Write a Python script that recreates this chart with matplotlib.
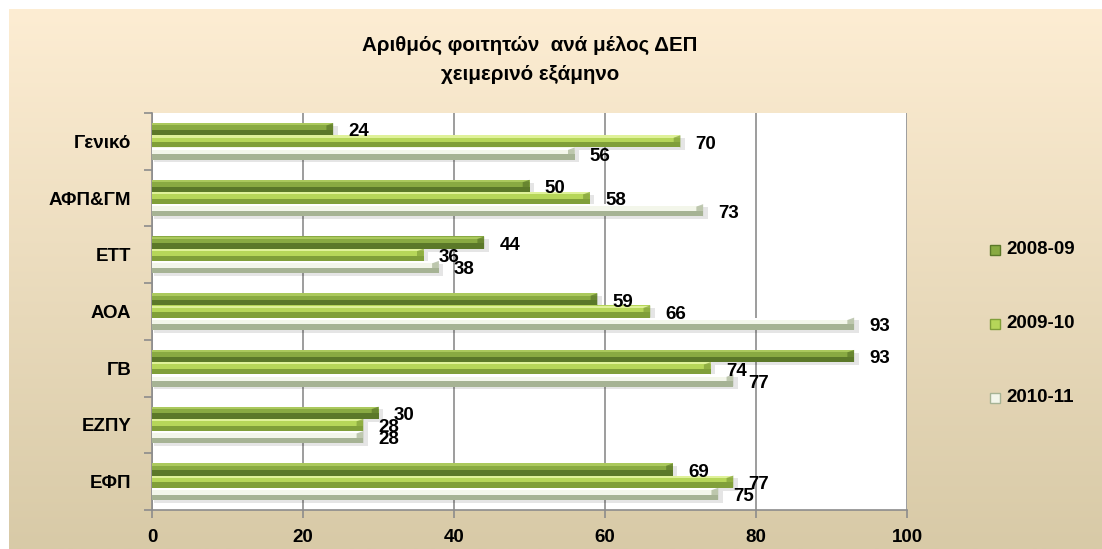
import numpy as np
import matplotlib
matplotlib.use("Agg")
import matplotlib.pyplot as plt
from matplotlib.patches import Rectangle, Polygon

plt.rcParams['font.family'] = ['Liberation Sans', 'DejaVu Sans']
plt.rcParams['font.weight'] = 'bold'

categories = ["ΕΦΠ", "ΕΖΠΥ", "ΓΒ", "ΑΟΑ", "ΕΤΤ", "ΑΦΠ&ΓΜ", "Γενικό"]
series = ["2008-09", "2009-10", "2010-11"]
v_2008_09 = [69, 30, 93, 59, 44, 50, 24]
v_2009_10 = [77, 28, 74, 66, 36, 58, 70]
v_2010_11 = [75, 28, 77, 93, 38, 73, 56]
xticks = [0, 20, 40, 60, 80, 100]

# (highlight, upper body, lower shade) per series
palettes = [("#abc95d", "#89aa42", "#5b7829"),
            ("#dff199", "#b6d659", "#809f39"),
            ("#ffffff", "#f3f6ea", "#a6b394")]

W, H = 1102, 549
fig = plt.figure(figsize=(W / 100, H / 100), dpi=100)

# warm gradient backdrop
bg = fig.add_axes([9 / W, 0, 1 - 9 / W, 1 - 9 / H], zorder=-10)
top = np.array([253, 237, 211]) / 255
bot = np.array([216, 202, 167]) / 255
t = np.linspace(0, 1, 256)[:, None]
grad = top[None, :] * (1 - t) + bot[None, :] * t
bg.imshow(grad[:, None, :], aspect="auto", extent=[0, 1, 0, 1])
bg.set_axis_off()

ax = fig.add_axes([152 / W, 1 - 510 / H, (907 - 152) / W, (510 - 113) / H])
ax.set_facecolor("white")

fs = 13.5
bh = 0.215
offsets = [bh, 0.0, -bh]
y = np.arange(len(categories))
for vals, off, (hi, body, shade) in zip([v_2008_09, v_2009_10, v_2010_11], offsets, palettes):
    yc = y + off
    # soft drop shadow
    ax.barh(yc - 0.05, np.array(vals) + 0.4, height=bh, left=0.2, color="#000000",
            alpha=0.10, zorder=2, linewidth=0)
    # lower half shade, upper half lighter, thin highlight on top
    ax.barh(yc, vals, height=bh, color=shade, zorder=3, linewidth=0)
    ax.barh(yc + bh * 0.22, vals, height=bh * 0.56, color=body, zorder=4, linewidth=0)
    ax.barh(yc + bh * 0.40, vals, height=bh * 0.18, color=hi, zorder=4, linewidth=0)
    for yy, v in zip(yc, vals):
        # bevelled end cap
        cap = Polygon([(v - 0.9, yy + bh * 0.3), (v, yy + bh / 2), (v, yy - bh / 2),
                       (v - 0.9, yy - bh * 0.25)], closed=True,
                      facecolor=shade, edgecolor="none", zorder=5, alpha=0.7)
        ax.add_patch(cap)
        ax.text(v + 2.0, yy - 0.05, f"{v}", va="center", ha="left",
                fontsize=fs, fontweight="bold", color="black", zorder=6)

ax.set_xlim(0, 100)
ax.set_ylim(-0.5, len(categories) - 0.5)
ax.set_xticks(xticks)
ax.set_xticklabels([str(v) for v in xticks], fontsize=fs, fontweight="bold")
ax.set_yticks(y)
ax.set_yticklabels(categories, fontsize=fs, fontweight="bold")
ax.set_yticks(np.arange(-0.5, len(categories)), minor=True)
ax.tick_params(axis="y", which="major", length=0, pad=15)
ax.tick_params(axis="y", which="minor", length=6, color="#8c8c8c", width=1.2)
ax.tick_params(axis="x", length=6, color="#8c8c8c", width=1.2, pad=8)
ax.grid(axis="x", color="#8c8c8c", linewidth=1.2, zorder=1)
ax.set_axisbelow(True)
for s in ["top", "right"]:
    ax.spines[s].set_visible(False)
for s in ["left", "bottom"]:
    ax.spines[s].set_color("#8c8c8c")
    ax.spines[s].set_linewidth(1.2)

fig.text(0.481, 1 - 45 / H, "Αριθμός φοιτητών  ανά μέλος ΔΕΠ", ha="center", va="center",
         fontsize=14.8, fontweight="bold")
fig.text(0.481, 1 - 75 / H, "χειμερινό εξάμηνο", ha="center", va="center",
         fontsize=14.8, fontweight="bold")

# legend entries
for i, (name, (hi, body, shade)) in enumerate(zip(series, palettes)):
    yc = 1 - (250 + 74 * i) / H
    fig.patches.append(Rectangle((990 / W, yc - 5 / H), 10 / W, 10 / H,
                                 transform=fig.transFigure, facecolor=body,
                                 edgecolor=shade, linewidth=1))
    fig.text(1006 / W, yc, name, ha="left", va="center", fontsize=fs, fontweight="bold")

fig.savefig("out.png", dpi=100)
